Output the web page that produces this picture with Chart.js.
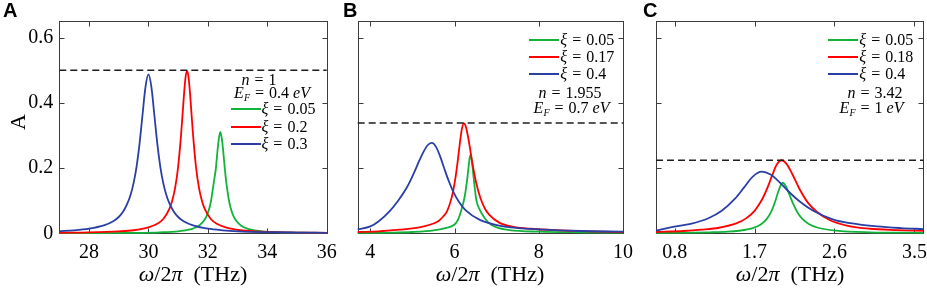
<!DOCTYPE html>
<html><head><meta charset="utf-8">
<script src="https://cdn.jsdelivr.net/npm/chart.js@4.4.1/dist/chart.umd.min.js"></script>
<style>
html,body{margin:0;padding:0;background:#fff;}
body{width:927px;height:290px;overflow:hidden;position:relative;font-family:"Liberation Serif","DejaVu Serif",serif;color:#000;}
canvas{position:absolute;top:0;}
.abs{position:absolute;white-space:nowrap;}
.letter{font:bold 20px "Liberation Sans",Arial,sans-serif;line-height:20px;}
.xt{font-size:22px;line-height:22px;transform:translateX(-50%);}
.yt{font-size:22px;line-height:22px;transform:translate(-50%,-50%) rotate(-90deg);}
.row{display:flex;align-items:center;height:18px;font-size:16px;line-height:18px;}
.ln{display:inline-block;width:30px;height:0;border-top:2px solid #000;margin-right:1px;}
.note{font-size:16px;line-height:18px;transform:translate(-50%,-50%);}
.eq{margin:0 5px;}
sub{font-size:10px;vertical-align:-3px;font-style:italic;}
</style></head>
<body>
<canvas id="cA" width="350" height="290" style="left:0px"></canvas>
<canvas id="cB" width="310" height="290" style="left:330px"></canvas>
<canvas id="cC" width="310" height="290" style="left:640px"></canvas>
<div id="overlay"></div>
<script>
// ---------------- DATA ----------------
const yTicks = [0, 0.2, 0.4, 0.6];
const yTickLabels = ['0', '0.2', '0.4', '0.6'];
const yRange = [0, 0.65];

const aXTicks = [28, 30, 32, 34, 36];
const aXTickLabels = ['28', '30', '32', '34', '36'];
const aXRange = [27, 36];
const bXTicks = [4, 6, 8, 10];
const bXTickLabels = ['4', '6', '8', '10'];
const bXRange = [3.7, 10];
const cXTicks = [0.8, 1.7, 2.6, 3.5];
const cXTickLabels = ['0.8', '1.7', '2.6', '3.5'];
const cXRange = [0.59, 3.6];

const aDashLevel = 0.5;
const bDashLevel = 0.338;
const cDashLevel = 0.224;

const aXiLabels = ['0.05', '0.2', '0.3'];
const bXiLabels = ['0.05', '0.17', '0.4'];
const cXiLabels = ['0.05', '0.18', '0.4'];
const aN = '1', bN = '1.955', cN = '3.42';
const aEF = '0.4', bEF = '0.7', cEF = '1';
const seriesColors = ['#12b33a', '#ff0000', '#2a3fa6'];

// Panel A  (x = THz, y = A)
const aGreen = [[27,0.0004],[28,0.0006],[29.4,0.0014],[30.4,0.0031],[31.0,0.0062],[31.4,0.012],[31.7,0.023],[31.9,0.043],[32.0,0.062],[32.1,0.096],[32.2,0.156],[32.27,0.199],[32.32,0.249],[32.37,0.29],[32.42,0.311],[32.47,0.29],[32.52,0.249],[32.57,0.199],[32.62,0.156],[32.72,0.096],[32.82,0.062],[32.92,0.043],[33.12,0.023],[33.42,0.012],[33.82,0.0062],[34.42,0.0031],[35.42,0.0014],[36,0.001]];
const aRed = [[27,0.0017],[28,0.0029],[29,0.006],[29.5,0.0094],[30.0,0.018],[30.3,0.029],[30.5,0.044],[30.7,0.074],[30.8,0.1],[30.9,0.14],[31.0,0.204],[31.1,0.304],[31.15,0.366],[31.2,0.429],[31.25,0.479],[31.3,0.498],[31.35,0.479],[31.4,0.429],[31.45,0.366],[31.5,0.304],[31.6,0.204],[31.7,0.14],[31.8,0.1],[31.9,0.074],[32.1,0.044],[32.3,0.029],[32.6,0.018],[33.1,0.0094],[33.6,0.006],[34.6,0.003],[36,0.0015]];
const aBlue = [[27,0.0065],[27.5,0.009],[28,0.014],[28.5,0.024],[28.8,0.036],[29.0,0.05],[29.15,0.067],[29.3,0.093],[29.4,0.118],[29.5,0.154],[29.6,0.204],[29.7,0.274],[29.8,0.362],[29.9,0.448],[30.0,0.487],[30.1,0.448],[30.2,0.362],[30.3,0.274],[30.4,0.204],[30.5,0.154],[30.6,0.118],[30.7,0.093],[30.85,0.067],[31.0,0.05],[31.2,0.036],[31.5,0.024],[32,0.014],[32.5,0.009],[33,0.006],[34,0.0035],[35,0.0023],[36,0.0016]];

// Panel B
const bGreen = [[3.7,0.001],[4.5,0.002],[5.0,0.004],[5.5,0.009],[5.78,0.016],[6.0,0.027],[6.08,0.041],[6.16,0.071],[6.24,0.112],[6.3,0.165],[6.33,0.2],[6.36,0.232],[6.38,0.24],[6.4,0.232],[6.43,0.2],[6.47,0.15],[6.52,0.1],[6.6,0.072],[6.71,0.048],[6.83,0.03],[7.0,0.018],[7.3,0.01],[8.0,0.005],[9.0,0.003],[10,0.002]];
const bRed = [[3.7,0.004],[4.2,0.006],[4.7,0.011],[5.0,0.015],[5.3,0.022],[5.5,0.03],[5.62,0.038],[5.72,0.05],[5.82,0.067],[5.92,0.104],[5.97,0.132],[6.02,0.169],[6.07,0.216],[6.12,0.27],[6.17,0.317],[6.22,0.337],[6.27,0.326],[6.32,0.296],[6.37,0.258],[6.42,0.217],[6.52,0.151],[6.62,0.106],[6.72,0.076],[6.82,0.057],[7.07,0.032],[7.4,0.02],[7.8,0.014],[8.5,0.009],[9.2,0.006],[10,0.004]];
const bBlue = [[3.7,0.012],[4.0,0.021],[4.2,0.037],[4.46,0.068],[4.66,0.1],[4.86,0.139],[4.96,0.164],[5.06,0.192],[5.16,0.222],[5.26,0.249],[5.36,0.27],[5.46,0.277],[5.56,0.265],[5.66,0.235],[5.76,0.197],[5.86,0.161],[5.96,0.13],[6.11,0.095],[6.26,0.071],[6.6,0.041],[7.0,0.025],[7.5,0.016],[8.0,0.012],[9.0,0.007],[10,0.005]];

// Panel C
const cGreen = [[0.59,0.0011],[1.0,0.002],[1.2,0.003],[1.4,0.005],[1.52,0.0078],[1.67,0.015],[1.77,0.027],[1.84,0.045],[1.89,0.068],[1.93,0.096],[1.96,0.122],[1.99,0.145],[2.015,0.155],[2.055,0.143],[2.095,0.117],[2.135,0.09],[2.185,0.063],[2.235,0.045],[2.315,0.028],[2.415,0.017],[2.615,0.008],[3.0,0.003],[3.6,0.0015]];
const cRed = [[0.59,0.004],[0.9,0.007],[1.1,0.011],[1.3,0.017],[1.5,0.031],[1.6,0.045],[1.7,0.069],[1.75,0.088],[1.8,0.112],[1.85,0.143],[1.9,0.179],[1.95,0.211],[2.004,0.224],[2.06,0.213],[2.12,0.184],[2.2,0.139],[2.3,0.094],[2.4,0.066],[2.55,0.04],[2.75,0.023],[3.0,0.014],[3.3,0.01],[3.6,0.0075]];
const cBlue = [[0.59,0.008],[0.78,0.02],[0.98,0.029],[1.18,0.046],[1.33,0.069],[1.48,0.106],[1.58,0.14],[1.68,0.174],[1.78,0.189],[1.88,0.18],[1.98,0.157],[2.08,0.129],[2.22,0.095],[2.36,0.069],[2.58,0.043],[2.78,0.031],[3.08,0.021],[3.35,0.016],[3.6,0.013]];

// ---------------- DRAWING ----------------
const SERIF = '"Liberation Serif","DejaVu Serif",serif';
const framePlugin = {
  id: 'frame',
  beforeDatasetsDraw(chart) {
    const {ctx, chartArea: {left, right, top, bottom}, scales: {x, y}} = chart;
    ctx.save();
    ctx.strokeStyle = '#3c3c3c';
    ctx.lineWidth = 1;
    const L = Math.round(left) + 0.5, R = Math.round(right) + 0.5, T = Math.round(top) + 0.5, B = Math.round(bottom) + 0.5;
    ctx.strokeRect(L, T, R - L, B - T);
    ctx.beginPath();
    const tl = 5;
    x.ticks.forEach(t => {
      const px = Math.round(x.getPixelForValue(t.value)) + 0.5;
      ctx.moveTo(px, B); ctx.lineTo(px, B - tl);
      ctx.moveTo(px, T); ctx.lineTo(px, T + tl);
    });
    y.ticks.forEach(t => {
      const py = Math.round(y.getPixelForValue(t.value)) + 0.5;
      ctx.moveTo(L, py); ctx.lineTo(L + tl, py);
      ctx.moveTo(R, py); ctx.lineTo(R - tl, py);
    });
    ctx.stroke();
    ctx.restore();
  }
};

function curve(pts, color) {
  return {data: pts.map(p => ({x: p[0], y: p[1]})), borderColor: color, borderWidth: 1.8,
    pointRadius: 0, fill: false, cubicInterpolationMode: 'monotone', clip: false};
}
function dash(range, lvl) {
  return {data: [{x: range[0], y: lvl}, {x: range[1], y: lvl}], borderColor: '#1e1e1e', borderWidth: 1.4,
    borderDash: [7, 4], pointRadius: 0, fill: false, clip: false};
}

function makePanel(id, cfg) {
  new Chart(document.getElementById(id), {
    type: 'line',
    data: {datasets: [dash(cfg.xRange, cfg.dash), curve(cfg.blue, seriesColors[2]), curve(cfg.red, seriesColors[1]), curve(cfg.green, seriesColors[0])]},
    options: {
      responsive: false, animation: false, devicePixelRatio: 1,
      layout: {padding: {left: 0, right: cfg.padRight, top: 21.3, bottom: 0}},
      plugins: {legend: {display: false}, tooltip: {enabled: false}},
      scales: {
        x: {
          type: 'linear', min: cfg.xRange[0], max: cfg.xRange[1],
          afterBuildTicks: s => { s.ticks = cfg.xTicks.map(v => ({value: v})); },
          afterFit: s => { s.height = 290 - 233.3; },
          grid: {display: false, drawTicks: false}, border: {display: false},
          ticks: {color: '#000', font: {family: SERIF, size: 20}, padding: 7, maxRotation: 0, autoSkip: false,
            callback: (v, i) => cfg.xLabels[i]}
        },
        y: {
          type: 'linear', min: yRange[0], max: yRange[1],
          afterBuildTicks: s => { s.ticks = yTicks.map(v => ({value: v})); },
          afterFit: s => { s.width = cfg.yWidth; },
          grid: {display: false, drawTicks: false}, border: {display: false},
          ticks: {display: cfg.showY, color: '#000', font: {family: SERIF, size: 20}, padding: 6,
            callback: (v, i) => yTickLabels[i]}
        }
      }
    },
    plugins: [framePlugin]
  });
}

makePanel('cA', {xRange: aXRange, xTicks: aXTicks, xLabels: aXTickLabels, dash: aDashLevel,
  green: aGreen, red: aRed, blue: aBlue, yWidth: 59.3, padRight: 350 - 326.7, showY: true});
makePanel('cB', {xRange: bXRange, xTicks: bXTicks, xLabels: bXTickLabels, dash: bDashLevel,
  green: bGreen, red: bRed, blue: bBlue, yWidth: 357.7 - 330, padRight: 640 - 623, showY: false});
makePanel('cC', {xRange: cXRange, xTicks: cXTicks, xLabels: cXTickLabels, dash: cDashLevel,
  green: cGreen, red: cRed, blue: cBlue, yWidth: 656 - 640, padRight: 950 - 923.3, showY: false});

// ---------------- TEXT OVERLAYS ----------------
const ov = document.getElementById('overlay');
function add(html, cls, style) {
  const d = document.createElement('div');
  d.className = 'abs ' + cls;
  d.setAttribute('style', style);
  d.innerHTML = html;
  ov.appendChild(d);
}
add('A', 'letter', 'left:3px;top:0px;');
add('B', 'letter', 'left:343px;top:0px;');
add('C', 'letter', 'left:643px;top:0px;');
add('A', 'yt', 'left:18px;top:122px;');
const xTitle = '<i>ω</i>/2<i>π</i>&nbsp;&nbsp;(THz)';
add(xTitle, 'xt', 'left:193px;top:263px;');
add(xTitle, 'xt', 'left:490px;top:263px;');
add(xTitle, 'xt', 'left:790px;top:263px;');

const EQ = '<span class="eq">=</span>';
function legend(lineLeft, rowYs, labels, nTxt, nC, efTxt, efC) {
  labels.forEach((lab, i) => {
    add('<span class="ln" style="border-top-color:' + seriesColors[i] + '"></span><span><i>ξ</i>' + EQ + lab + '</span>',
      'row', 'left:' + lineLeft + 'px;top:' + (rowYs[i] - 9) + 'px;');
  });
  add('<i>n</i>' + EQ + nTxt, 'note', 'left:' + nC[0] + 'px;top:' + nC[1] + 'px;');
  add('<i>E</i><sub>F</sub>' + EQ + efTxt + ' <i>eV</i>', 'note', 'left:' + efC[0] + 'px;top:' + efC[1] + 'px;');
}
legend(230.5, [109.3, 126.7, 144], aXiLabels, aN, [259, 80], aEF, [272, 95]);
legend(529.3, [40, 57.3, 74], bXiLabels, bN, [570, 93.3], bEF, [571.5, 110]);
legend(828.3, [40, 57.3, 74], cXiLabels, cN, [875, 93.3], cEF, [871.5, 110]);
</script>
</body></html>
